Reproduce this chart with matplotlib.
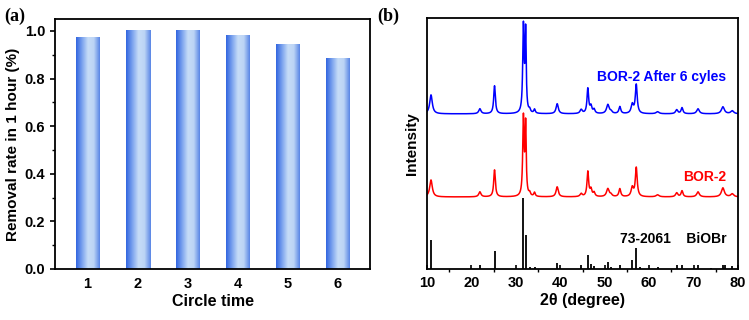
import numpy as np
import matplotlib
matplotlib.use("Agg")
import matplotlib.pyplot as plt
from matplotlib.colors import LinearSegmentedColormap

# panel (a): removal rate per cycle
cycles = [1, 2, 3, 4, 5, 6]
removal = [0.973, 1.0, 1.0, 0.980, 0.945, 0.883]

# panel (b): reference pattern 73-2061 BiOBr (position, relative height)
ref_pos = [10.9, 21.9, 25.2, 31.7, 32.2, 33.1, 34.2, 39.3, 44.7, 46.2, 46.9, 47.6,
           50.7, 51.4, 53.4, 56.2, 57.1, 58.0, 61.9, 66.2, 67.4, 71.0, 74.0, 76.6, 77.0, 78.7]
ref_int = [41, 6, 25, 100, 48, 3, 3, 9, 5, 20, 7, 4,
           10, 3, 6, 13, 30, 3, 3, 5, 5, 5, 2, 5, 5, 4]

# measured peaks (position, peak height) for BOR-2 and BOR-2 after 6 cycles
pk_pos = [10.9, 21.9, 25.2, 31.7, 32.2, 33.1, 34.2, 39.3, 44.7, 46.2, 46.9, 47.6,
          50.7, 51.4, 53.4, 56.2, 57.1, 61.9, 66.2, 67.4, 71.0, 76.6, 78.7]
bor2_h = [17, 5, 27, 78, 70, 3, 4, 10, 3, 25, 7, 4,
          8, 2, 8, 9, 29, 2, 4, 6, 5, 9, 3]
bor2_6_h = [19, 5, 28, 86, 80, 3, 4, 10, 4, 25, 7, 4,
            9, 2, 7, 9, 29, 2, 4, 6, 5, 7, 3]
pk_w = [0.35, 0.3, 0.22, 0.18, 0.15, 0.2, 0.2, 0.3, 0.3, 0.22, 0.25, 0.25,
        0.35, 0.3, 0.25, 0.3, 0.25, 0.4, 0.3, 0.25, 0.35, 0.4, 0.4]

two_theta = np.linspace(10, 80, 3500)


def profile(heights):
    y = np.zeros_like(two_theta)
    for p, h, w in zip(pk_pos, heights, pk_w):
        y += h / (1 + ((two_theta - p) / w) ** 2)
    return y


plt.rcParams['font.family'] = ['Liberation Sans', 'DejaVu Sans']
plt.rcParams['font.weight'] = 'bold'
plt.rcParams['axes.linewidth'] = 1.3

fig = plt.figure(figsize=(7.49, 3.2), dpi=100)
ax1 = fig.add_axes([55 / 749, 51 / 320, 315 / 749, 250 / 320])
ax2 = fig.add_axes([427 / 749, 51 / 320, 311 / 749, 251 / 320])

# --- (a) gradient bars
cmap = LinearSegmentedColormap.from_list(
    "bar", ["#3366e0", "#7aa2ee", "#c6dcf7", "#bcd4f5", "#5a86e6"])
grad = np.linspace(0, 1, 64).reshape(1, -1)
bars = ax1.bar(cycles, removal, width=0.48, color="none", edgecolor="none")
for b in bars:
    x0, y0 = b.get_x(), b.get_y()
    ax1.imshow(grad, extent=[x0, x0 + b.get_width(), y0, y0 + b.get_height()],
               aspect="auto", cmap=cmap, zorder=2)
ax1.set_xlim(0.35, 6.65)
ax1.set_ylim(0, 1.05)
ax1.set_xticks(cycles)
ax1.set_yticks(np.arange(0, 1.01, 0.2))
ax1.set_yticks(np.arange(0, 1.05, 0.1), minor=True)
ax1.set_yticklabels([f"{v:.1f}" for v in np.arange(0, 1.01, 0.2)])
ax1.tick_params(axis="both", labelsize=10.5, width=1.2, length=3.5, direction="out")
ax1.tick_params(axis="x", length=0, pad=6)
ax1.tick_params(axis="y", which="minor", length=2, width=1)
ax1.set_xlabel("Circle time", fontsize=11.5, fontweight="bold", labelpad=2)
ax1.set_ylabel("Removal rate in 1 hour (%)", fontsize=11, fontweight="bold", labelpad=3)
fig.text(4 / 749, 1 - 16 / 320, "(a)", fontsize=13, fontweight="bold",
         family="Liberation Serif", va="center")

# --- (b) XRD
ax2.vlines(ref_pos, 0, np.array(ref_int) * 0.283, color="black", lw=1.3)
ax2.plot(two_theta, 28.7 + profile(bor2_h) * 0.398, color="#ff0000", lw=1.1)
ax2.plot(two_theta, 61.8 + profile(bor2_6_h) * 0.398, color="#0000ff", lw=1.1)
ax2.set_xlim(10, 80)
ax2.set_ylim(0, 100)
ax2.set_xticks(range(10, 81, 10))
ax2.set_xticks(range(15, 80, 10), minor=True)
ax2.set_yticks([])
ax2.tick_params(axis="x", labelsize=10.5, width=1.2, length=3, direction="in", pad=5)
ax2.tick_params(axis="x", which="minor", length=2, width=1)
ax2.set_xlabel("2θ (degree)", fontsize=11.5, fontweight="bold", labelpad=2)
ax2.set_ylabel("Intensity", fontsize=11, fontweight="bold", labelpad=6)
ax2.text(77.4, 76.5, "BOR-2 After 6 cyles", color="#0000ff", fontsize=10,
         fontweight="bold", ha="right", va="center")
ax2.text(77.4, 36.7, "BOR-2", color="#ff0000", fontsize=10,
         fontweight="bold", ha="right", va="center")
ax2.text(77.4, 12.0, "73-2061    BiOBr", color="black", fontsize=10,
         fontweight="bold", ha="right", va="center")
fig.text(377 / 749, 1 - 16 / 320, "(b)", fontsize=13, fontweight="bold",
         family="Liberation Serif", va="center")

fig.savefig("out.png", dpi=100)
